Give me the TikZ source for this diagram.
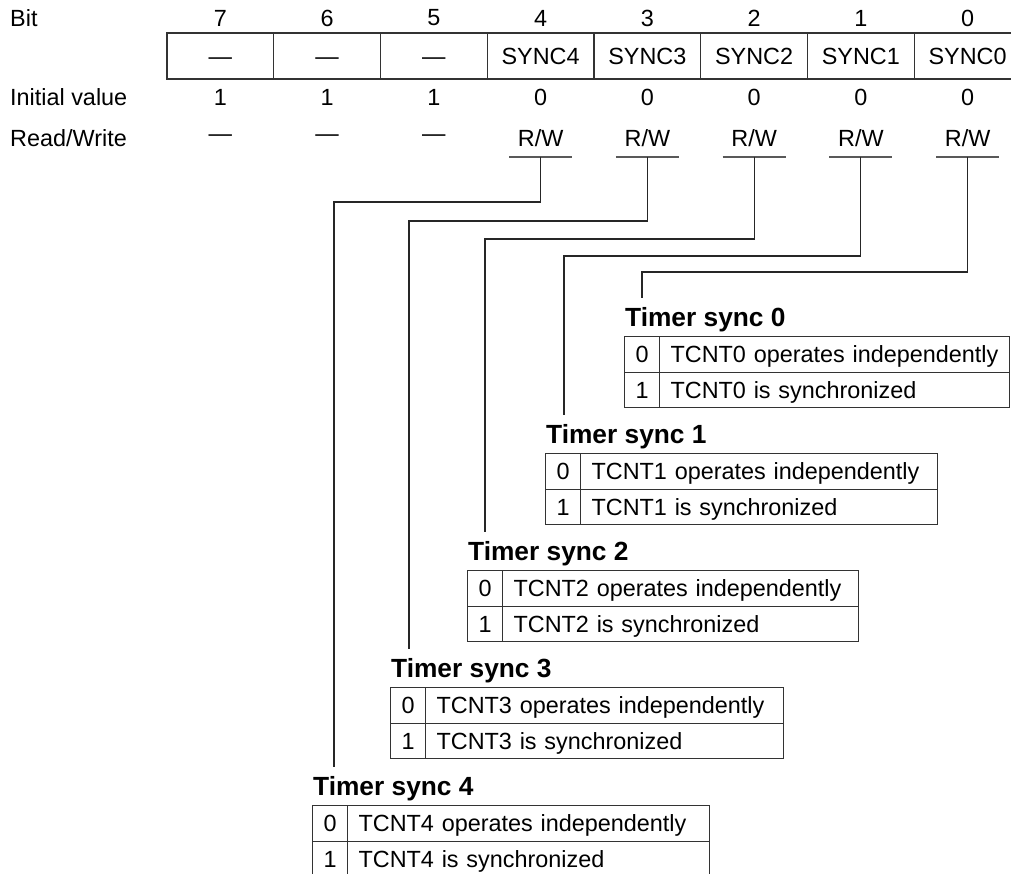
\documentclass[tikz,border=0pt]{standalone}
\usepackage{fontspec}
\setmainfont{Liberation Sans}
\newcommand\fs{\fontsize{23.4}{28}\selectfont}
\newcommand\fsb{\fontsize{26.3}{31}\selectfont\bfseries}
\begin{document}
\begin{tikzpicture}[x=1pt,y=-1pt,
  every node/.style={font=\fs, inner sep=0pt},
  regcell/.style={draw=black!80, line width=1.2pt, minimum width=106.75pt, minimum height=46pt, text height=16.8pt, text depth=0pt},
  tabcell/.style={draw=black!80, line width=1.2pt, minimum height=35.5pt, anchor=north west, text height=16.8pt, text depth=-2pt},
  uline/.style={draw=black!65, line width=1.5pt},
  conn/.style={draw=black!85, line width=1.2pt}]
\useasboundingbox (0,0) rectangle (1011,874);
% row labels
\node[anchor=west] (lbit) at (10,18) {Bit};
\node[anchor=west] (linit) at (10,97) {Initial value};
\node[anchor=west] (lrw) at (10,138) {Read/Write};
% register
\foreach \b/\nm/\iv/\rw in {7/—/1/—, 6/—/1/—, 5/—/1/—, 4/SYNC4/0/{R/W}, 3/SYNC3/0/{R/W}, 2/SYNC2/0/{R/W}, 1/SYNC1/0/{R/W}, 0/SYNC0/0/{R/W}}{
  \pgfmathsetmacro\cx{167+106.75*(7.5-\b)}
  \node (bn\b) at (\cx,18) {\b};
  \node[regcell] (c\b) at (\cx,56) {\nm};
  \node (iv\b) at (\cx,97) {\iv};
  \node (rw\b) at (\cx,138) {\rw};
}
\foreach \b in {4,...,0}{
  \pgfmathsetmacro\cx{167+106.75*(7.5-\b)}
  \draw[uline] (\cx-31.5,157) -- (\cx+31.5,157);
  \coordinate (u\b) at (\cx,157);
}
% tables and connectors
\foreach \k/\L/\R/\T/\vx/\hy in {0/624/1009/336/642/272, 1/545/937/453/564/256, 2/467/858/570/485/239, 3/390/783/687/409/221, 4/312/709/805/334/202}{
  \pgfmathsetmacro\W{\R-\L-35}
  \pgfmathsetmacro\TW{\W-22}
  \node[anchor=west, font=\fsb] (ti\k) at (\L+1,\T-16) {Timer sync \k};
  \node[tabcell, minimum width=35pt] (za\k) at (\L,\T) {0};
  \node[tabcell, minimum width=\W pt, text width=\TW pt, inner xsep=11pt, align=left] (zb\k) at (\L+35,\T) {TCNT\k\ operates independently};
  \node[tabcell, minimum width=35pt] (oa\k) at (\L,\T+35.5) {1};
  \node[tabcell, minimum width=\W pt, text width=\TW pt, inner xsep=11pt, align=left] (ob\k) at (\L+35,\T+35.5) {TCNT\k\ is synchronized};
  \coordinate (k\k) at (\vx,\hy);
  \coordinate (e\k) at (\vx,\T-38);
  \draw[conn] (u\k) |- (k\k) -- (e\k);
}
\end{tikzpicture}
\end{document}
